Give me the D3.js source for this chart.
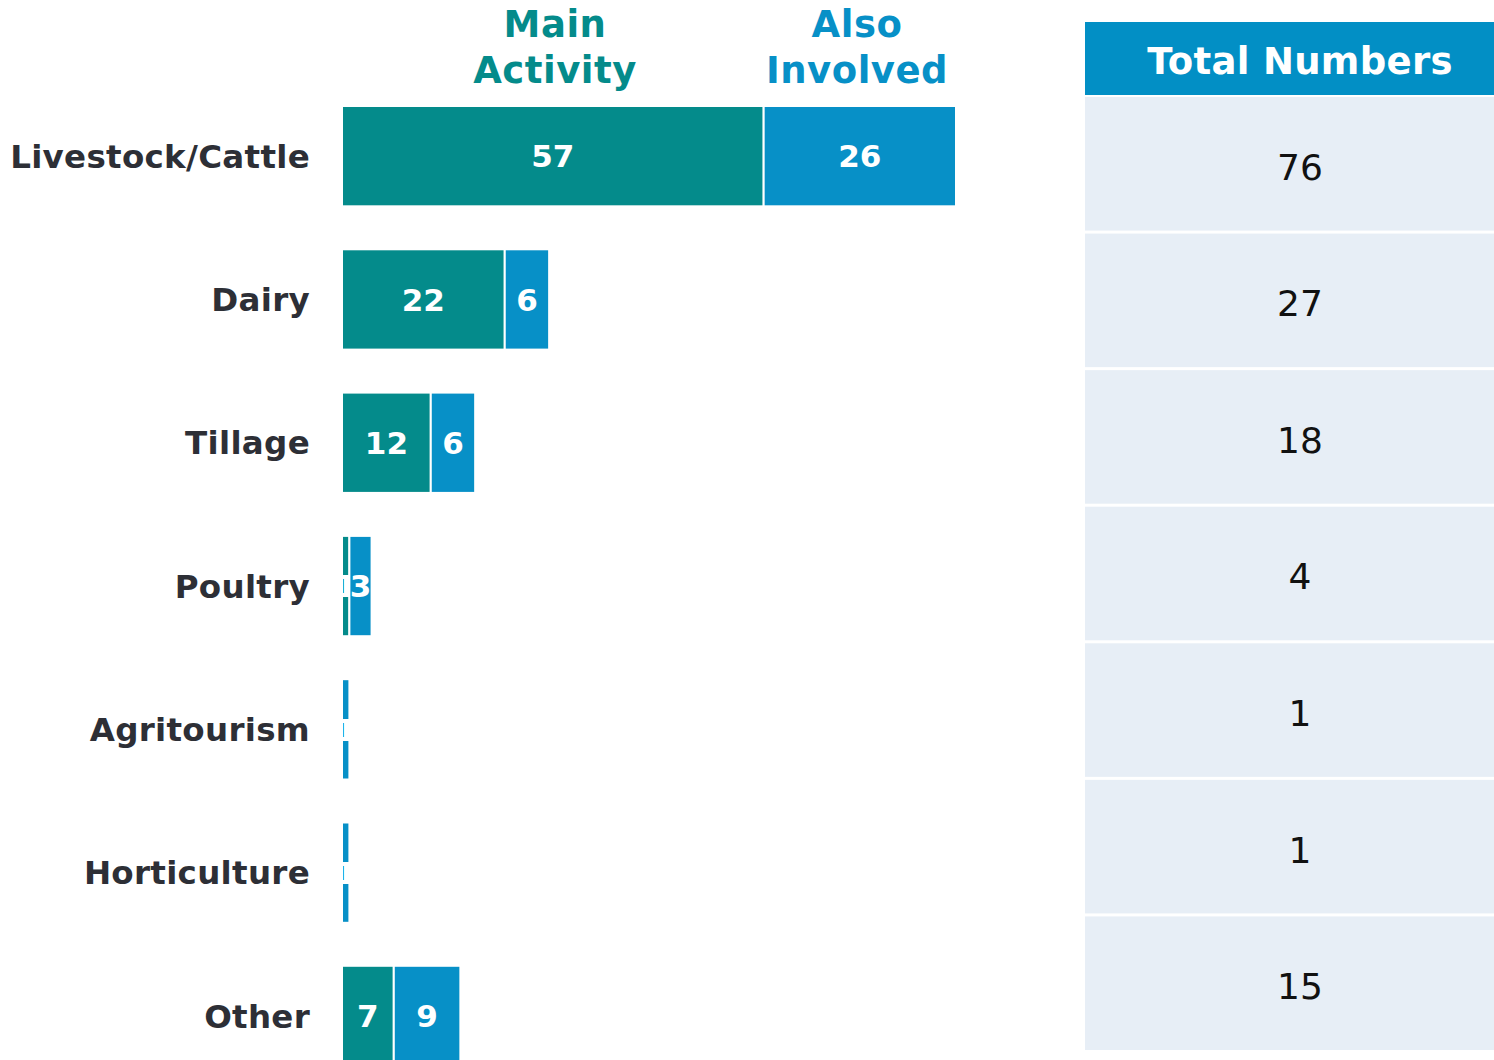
<!DOCTYPE html>
<html>
<head>
<meta charset="utf-8">
<script src="https://cdn.jsdelivr.net/npm/d3@7"></script>
<style>
  body { margin: 0; background: #fff; overflow: hidden; }
  text { font-family: "DejaVu Sans", Verdana, sans-serif; }
</style>
</head>
<body>
<div id="chart"></div>
<script>
var w = 1494,
  h = 1060;

var categories = ["Livestock/Cattle", "Dairy", "Tillage", "Poultry", "Agritourism", "Horticulture", "Other"];
var mainActivity = [57, 22, 12, 1, 0, 0, 7];
var alsoInvolved = [26, 6, 6, 3, 1, 1, 9];
var totalNumbers = [76, 27, 18, 4, 1, 1, 15];
var seriesNames = ["Main Activity", "Also Involved"];

var teal = "#048b8b",
  blue = "#0790c7";

var svg = d3
  .select("#chart")
  .append("svg")
  .attr("width", w)
  .attr("height", h);

var x = d3.scaleLinear().domain([0, 83]).range([342, 956]);

var y = d3
  .scaleBand()
  .domain(categories)
  .range([84.5, 1087.6])
  .paddingInner(0.3)
  .paddingOuter(0.15);

// stacked data
var rows = categories.map((c, i) => ({ cat: c, main: mainActivity[i], also: alsoInvolved[i] }));
var stack = d3.stack().keys(["main", "also"])(rows);
var colors = [teal, blue];

var layers = svg
  .selectAll(".layer")
  .data(stack)
  .enter()
  .append("g")
  .attr("class", "layer")
  .attr("fill", (d, i) => colors[i]);

layers
  .selectAll("rect")
  .data((d) => d.filter((s) => s[1] - s[0] > 0))
  .enter()
  .append("rect")
  .attr("x", (d) => x(d[0]))
  .attr("y", (d) => y(d.data.cat))
  .attr("width", (d) => x(d[1]) - x(d[0]))
  .attr("height", y.bandwidth())
  .attr("stroke", "white")
  .attr("stroke-width", 2);

// value labels (tiny segments keep their label, as in the original)
layers
  .selectAll("text")
  .data((d) => d.filter((s) => s[1] - s[0] > 0))
  .enter()
  .append("text")
  .attr("x", (d) => (x(d[0]) + x(d[1])) / 2)
  .attr("y", (d) => y(d.data.cat) + y.bandwidth() / 2)
  .attr("dy", "0.36em")
  .attr("text-anchor", "middle")
  .attr("fill", "white")
  .attr("font-weight", "bold")
  .attr("font-size", 31)
  .text((d) => d[1] - d[0]);

// category labels
svg
  .selectAll(".cat")
  .data(categories)
  .enter()
  .append("text")
  .attr("class", "cat")
  .attr("x", 310)
  .attr("y", (d) => y(d) + y.bandwidth() / 2)
  .attr("dy", "0.36em")
  .attr("text-anchor", "end")
  .attr("font-weight", "bold")
  .attr("font-size", 32.5)
  .attr("letter-spacing", 0.3)
  .attr("fill", "#2d2f36")
  .text((d) => d);

// series headers
var headerX = [555, 857];
seriesNames.forEach((name, i) => {
  var t = svg
    .append("text")
    .attr("x", headerX[i])
    .attr("y", 37)
    .attr("text-anchor", "middle")
    .attr("font-weight", "bold")
    .attr("font-size", 37)
    .attr("letter-spacing", 0.5)
    .attr("fill", colors[i]);
  name.split(" ").forEach((word, j) => {
    t.append("tspan").attr("x", headerX[i]).attr("dy", j ? 46 : 0).text(word);
  });
});

// total numbers table
var ty = d3
  .scaleBand()
  .domain(categories)
  .range([97, 1050])
  .paddingInner(0.022)
  .paddingOuter(0);

var table = svg.append("g");

table
  .append("rect")
  .attr("x", 1085)
  .attr("y", 22)
  .attr("width", 430)
  .attr("height", 73)
  .attr("fill", "#028fc5");

table
  .append("text")
  .attr("x", 1300)
  .attr("y", 74)
  .attr("text-anchor", "middle")
  .attr("font-weight", "bold")
  .attr("font-size", 37)
  .attr("letter-spacing", 0.3)
  .attr("fill", "white")
  .text("Total Numbers");

table
  .selectAll(".cell")
  .data(categories)
  .enter()
  .append("rect")
  .attr("class", "cell")
  .attr("x", 1085)
  .attr("y", (d) => ty(d))
  .attr("width", 430)
  .attr("height", ty.bandwidth())
  .attr("fill", "#e7eef6");

table
  .selectAll(".total")
  .data(categories)
  .enter()
  .append("text")
  .attr("class", "total")
  .attr("x", 1300)
  .attr("y", (d) => ty(d) + ty.bandwidth() / 2 + 3)
  .attr("dy", "0.36em")
  .attr("text-anchor", "middle")
  .attr("font-size", 36)
  .attr("fill", "#111")
  .text((d, i) => totalNumbers[i]);
</script>
</body>
</html>
